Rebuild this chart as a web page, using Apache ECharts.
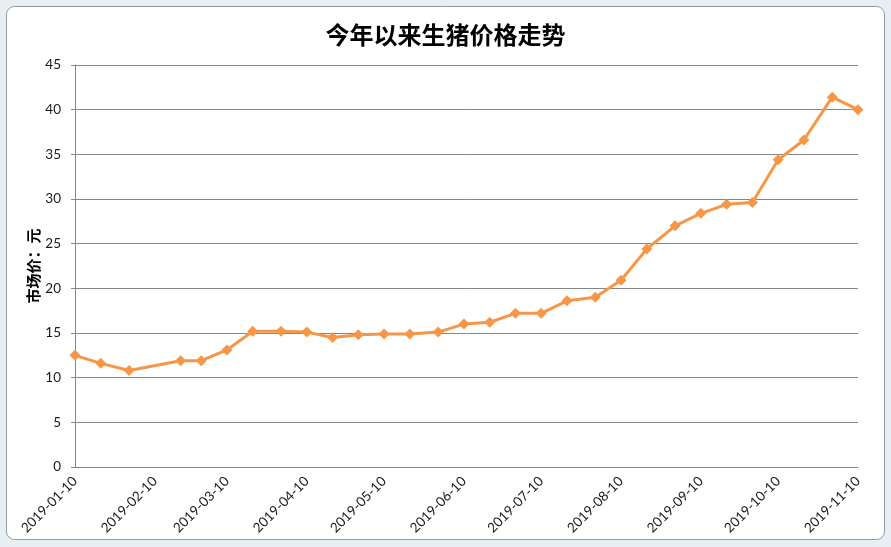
<!DOCTYPE html>
<html>
<head>
<meta charset="utf-8">
<script src="https://cdn.jsdelivr.net/npm/echarts@6/dist/echarts.min.js"></script>
<style>
html,body{margin:0;padding:0;background:#e8eff3;}
#c{width:891px;height:547px;}
</style>
</head>
<body>
<div id="c"></div>
<script>
const titleText = '今年以来生猪价格走势';
const yAxisName = '市场价：元';
const dates = ['2019-01-10','2019-01-20','2019-01-31','2019-02-20','2019-02-28','2019-03-10','2019-03-20','2019-03-31','2019-04-10','2019-04-20','2019-04-30','2019-05-10','2019-05-20','2019-05-31','2019-06-10','2019-06-20','2019-06-30','2019-07-10','2019-07-20','2019-07-31','2019-08-10','2019-08-20','2019-08-31','2019-09-10','2019-09-20','2019-09-30','2019-10-10','2019-10-20','2019-10-31','2019-11-10'];
const prices = [12.5,11.6,10.8,11.9,11.9,13.1,15.2,15.2,15.1,14.5,14.8,14.9,14.9,15.1,16.0,16.2,17.2,17.2,18.6,19.0,20.9,24.4,27.0,28.4,29.4,29.6,34.4,36.6,41.4,40.0];
const xTickLabels = ['2019-01-10','2019-02-10','2019-03-10','2019-04-10','2019-05-10','2019-06-10','2019-07-10','2019-08-10','2019-09-10','2019-10-10','2019-11-10'];
const yTicks = [0,5,10,15,20,25,30,35,40,45];

function ts(s){const p=s.split('-').map(Number);return Date.UTC(p[0],p[1]-1,p[2]);}
function fmt(v){const d=new Date(v);const m=d.getUTCMonth()+1,dd=d.getUTCDate();return d.getUTCFullYear()+'-'+(m<10?'0':'')+m+'-'+(dd<10?'0':'')+dd;}

const seriesData = dates.map((d,i)=>[ts(d),prices[i]]);
const xCustom = xTickLabels.map(ts);

const chart = echarts.init(document.getElementById('c'));
chart.setOption({
  animation:false,
  backgroundColor:'transparent',
  graphic:[{
    type:'rect', left:6, top:6, z:-10,
    shape:{width:878,height:533,r:8},
    style:{fill:'#ffffff',stroke:'#8e9aa3',lineWidth:1}
  }],
  title:{
    text:titleText, left:'center', top:18,
    textStyle:{fontFamily:'Noto Sans CJK SC',fontSize:24,fontWeight:'bold',color:'#000'}
  },
  grid:{left:75,right:33,top:65,bottom:80,containLabel:false},
  xAxis:{
    type:'value',
    min:ts(xTickLabels[0]), max:ts(xTickLabels[xTickLabels.length-1]),
    axisLine:{show:true,onZero:false,lineStyle:{color:'#868686',width:1}},
    axisTick:{show:false},
    splitLine:{show:false},
    axisLabel:{
      customValues:xCustom,
      showMinLabel:true, showMaxLabel:true,
      rotate:45, margin:12,
      fontFamily:'Lato', fontSize:13.5, color:'#1a1a1a',
      formatter:function(v){return fmt(v);}
    }
  },
  yAxis:{
    type:'value', min:0, max:45, interval:5,
    name:yAxisName, nameLocation:'middle', nameGap:34, nameRotate:90, nameMoveOverlap:false,
    nameTextStyle:{fontFamily:'Noto Sans CJK SC',fontSize:15,fontWeight:'bold',color:'#000'},
    axisLine:{show:true,lineStyle:{color:'#868686',width:1}},
    axisTick:{show:true,inside:false,length:4,lineStyle:{color:'#868686'}},
    splitLine:{show:true,lineStyle:{color:'#868686',width:1}},
    axisLabel:{fontFamily:'Lato',fontSize:13.5,color:'#1a1a1a',margin:14}
  },
  series:[{
    type:'line',
    data:seriesData,
    lineStyle:{color:'#F79646',width:3},
    itemStyle:{color:'#F79646'},
    symbol:'diamond', symbolSize:11, showSymbol:true
  }]
});
</script>
</body>
</html>
